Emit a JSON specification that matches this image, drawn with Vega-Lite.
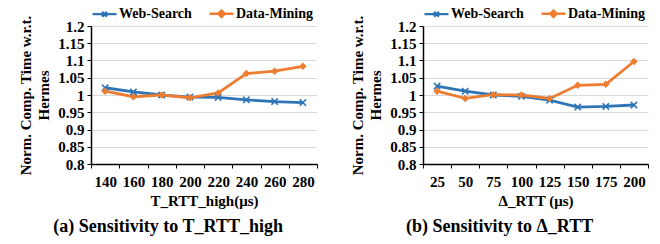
{
  "$schema": "https://vega.github.io/schema/vega-lite/v6.json",
  "background": "white",
  "padding": {"left": 18, "top": 4, "right": 0, "bottom": 0},
  "spacing": 32,
  "resolve": {"legend": {"color": "independent"}},
  "config": {
    "view": {"stroke": null},
    "font": "Liberation Serif",
    "axis": {
      "labelFont": "Liberation Serif", "labelFontWeight": "bold", "labelFontSize": 15, "labelColor": "#000",
      "titleFont": "Liberation Serif", "titleFontWeight": "bold", "titleFontSize": 15, "titleColor": "#000",
      "domainColor": "#000", "domainWidth": 1.5, "tickColor": "#000", "tickWidth": 1, "tickSize": 4
    },
    "legend": {"labelFont": "Liberation Serif", "labelFontWeight": "bold", "labelFontSize": 14, "labelColor": "#000"},
    "title": {"font": "Liberation Serif", "fontWeight": "bold", "fontSize": 18, "color": "#000"}
  },
  "datasets": {
    "a": [
      {"x": 140, "series": "Web-Search", "y": 1.021},
      {"x": 160, "series": "Web-Search", "y": 1.009},
      {"x": 180, "series": "Web-Search", "y": 1.0},
      {"x": 200, "series": "Web-Search", "y": 0.994},
      {"x": 220, "series": "Web-Search", "y": 0.993},
      {"x": 240, "series": "Web-Search", "y": 0.986},
      {"x": 260, "series": "Web-Search", "y": 0.981},
      {"x": 280, "series": "Web-Search", "y": 0.978},
      {"x": 140, "series": "Data-Mining", "y": 1.011},
      {"x": 160, "series": "Data-Mining", "y": 0.995},
      {"x": 180, "series": "Data-Mining", "y": 1.0},
      {"x": 200, "series": "Data-Mining", "y": 0.992},
      {"x": 220, "series": "Data-Mining", "y": 1.006},
      {"x": 240, "series": "Data-Mining", "y": 1.062},
      {"x": 260, "series": "Data-Mining", "y": 1.069},
      {"x": 280, "series": "Data-Mining", "y": 1.083}
    ],
    "b": [
      {"x": 25, "series": "Web-Search", "y": 1.026},
      {"x": 50, "series": "Web-Search", "y": 1.011},
      {"x": 75, "series": "Web-Search", "y": 1.0},
      {"x": 100, "series": "Web-Search", "y": 0.996},
      {"x": 125, "series": "Web-Search", "y": 0.985},
      {"x": 150, "series": "Web-Search", "y": 0.965},
      {"x": 175, "series": "Web-Search", "y": 0.967},
      {"x": 200, "series": "Web-Search", "y": 0.971},
      {"x": 25, "series": "Data-Mining", "y": 1.011},
      {"x": 50, "series": "Data-Mining", "y": 0.99},
      {"x": 75, "series": "Data-Mining", "y": 1.001},
      {"x": 100, "series": "Data-Mining", "y": 1.0},
      {"x": 125, "series": "Data-Mining", "y": 0.99},
      {"x": 150, "series": "Data-Mining", "y": 1.028},
      {"x": 175, "series": "Data-Mining", "y": 1.031},
      {"x": 200, "series": "Data-Mining", "y": 1.097}
    ]
  },
  "hconcat": [
    {
      "width": 226, "height": 138,
      "data": {"name": "a"},
      "title": {"text": "(a) Sensitivity to T_RTT_high", "orient": "bottom", "frame": "bounds", "anchor": "middle", "offset": 10},
      "encoding": {
        "x": {"field": "x", "type": "ordinal", "bandPosition": 0.5,
          "scale": {"type": "band", "paddingInner": 0, "paddingOuter": 0},
          "axis": {"title": "T_RTT_high(μs)", "labelAngle": 0, "tickBand": "extent", "grid": false, "labelPadding": 6, "titlePadding": 4}},
        "y": {"field": "y", "type": "quantitative",
          "scale": {"domain": [0.8, 1.2], "nice": false, "zero": false},
          "axis": {"title": ["Norm. Comp. Time w.r.t.", "Hermes"], "values": [0.8, 0.85, 0.9, 0.95, 1, 1.05, 1.1, 1.15, 1.2], "format": "~g",
            "grid": true, "gridColor": "#d9d9d9", "gridWidth": 1, "titleLineHeight": 18, "titlePadding": 6, "labelPadding": 3}},
        "color": {"field": "series", "type": "nominal",
          "scale": {"domain": ["Web-Search", "Data-Mining"], "range": ["#2E75B6", "#ED7D31"]},
          "legend": {"orient": "top", "title": null, "symbolSize": 256, "symbolOffset": 4, "labelOffset": 5, "columnPadding": 12, "offset": 4,
            "encode": {"symbols": {"update": {
              "shape": {"signal": "datum.value === 'Web-Search' ? 'M-1.5,0H1.5M-0.3,-0.3L0.3,0.3M-0.3,0.3L0.3,-0.3' : 'M-1.5,0H1.5M0,-0.4L0.4,0L0,0.4L-0.4,0Z'"},
              "fill": {"scale": "color", "field": "value"},
              "stroke": {"scale": "color", "field": "value"},
              "strokeWidth": {"value": 2.4},
              "opacity": {"value": 1}
            }}}}}
      },
      "layer": [
        {"mark": {"type": "line", "strokeWidth": 2.8}},
        {"mark": {"type": "point", "filled": true, "opacity": 1, "size": 56},
          "encoding": {"shape": {"field": "series", "type": "nominal", "legend": null,
            "scale": {"domain": ["Web-Search", "Data-Mining"], "range": ["M-1,-0.7L-0.7,-1L0,-0.3L0.7,-1L1,-0.7L0.3,0L1,0.7L0.7,1L0,0.3L-0.7,1L-1,0.7L-0.3,0Z", "diamond"]}}}}
      ]
    },
    {
      "width": 225, "height": 138,
      "data": {"name": "b"},
      "title": {"text": "(b) Sensitivity to Δ_RTT", "orient": "bottom", "frame": "bounds", "anchor": "middle", "offset": 10},
      "encoding": {
        "x": {"field": "x", "type": "ordinal", "bandPosition": 0.5,
          "scale": {"type": "band", "paddingInner": 0, "paddingOuter": 0},
          "axis": {"title": "Δ_RTT (μs)", "labelAngle": 0, "tickBand": "extent", "grid": false, "labelPadding": 6, "titlePadding": 4}},
        "y": {"field": "y", "type": "quantitative",
          "scale": {"domain": [0.8, 1.2], "nice": false, "zero": false},
          "axis": {"title": ["Norm. Comp. Time w.r.t.", "Hermes"], "values": [0.8, 0.85, 0.9, 0.95, 1, 1.05, 1.1, 1.15, 1.2], "format": "~g",
            "grid": true, "gridColor": "#d9d9d9", "gridWidth": 1, "titleLineHeight": 18, "titlePadding": 6, "labelPadding": 3}},
        "color": {"field": "series", "type": "nominal",
          "scale": {"domain": ["Web-Search", "Data-Mining"], "range": ["#2E75B6", "#ED7D31"]},
          "legend": {"orient": "top", "title": null, "symbolSize": 256, "symbolOffset": 4, "labelOffset": 5, "columnPadding": 12, "offset": 4,
            "encode": {"symbols": {"update": {
              "shape": {"signal": "datum.value === 'Web-Search' ? 'M-1.5,0H1.5M-0.3,-0.3L0.3,0.3M-0.3,0.3L0.3,-0.3' : 'M-1.5,0H1.5M0,-0.4L0.4,0L0,0.4L-0.4,0Z'"},
              "fill": {"scale": "color", "field": "value"},
              "stroke": {"scale": "color", "field": "value"},
              "strokeWidth": {"value": 2.4},
              "opacity": {"value": 1}
            }}}}}
      },
      "layer": [
        {"mark": {"type": "line", "strokeWidth": 2.8}},
        {"mark": {"type": "point", "filled": true, "opacity": 1, "size": 56},
          "encoding": {"shape": {"field": "series", "type": "nominal", "legend": null,
            "scale": {"domain": ["Web-Search", "Data-Mining"], "range": ["M-1,-0.7L-0.7,-1L0,-0.3L0.7,-1L1,-0.7L0.3,0L1,0.7L0.7,1L0,0.3L-0.7,1L-1,0.7L-0.3,0Z", "diamond"]}}}}
      ]
    }
  ]
}
